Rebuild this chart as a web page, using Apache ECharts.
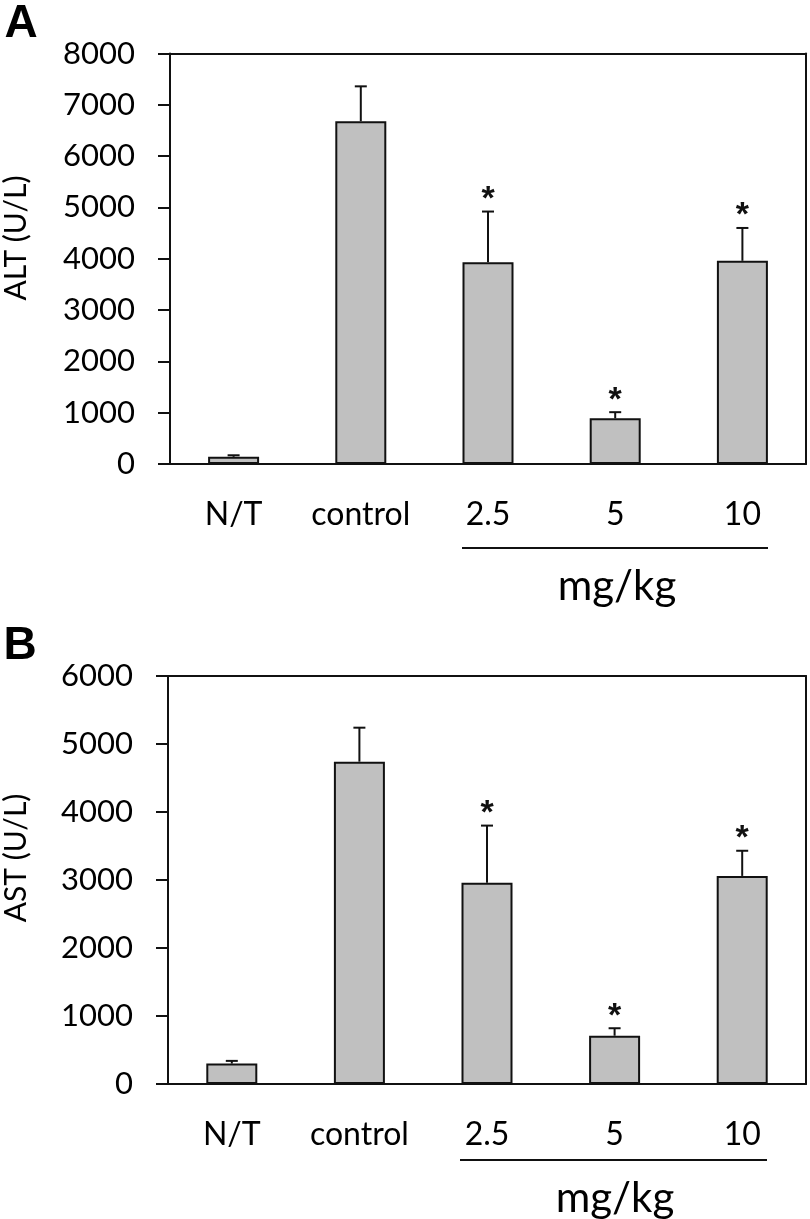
<!DOCTYPE html>
<html>
<head>
<meta charset="utf-8">
<script src="https://cdn.jsdelivr.net/npm/echarts@6/dist/echarts.min.js"></script>
<style>
html,body{margin:0;padding:0;background:#fff;}
#chart{width:810px;height:1219px;}
</style>
</head>
<body>
<div id="chart"></div>
<script>
// ---- data ----
const categories = ['N/T', 'control', '2.5', '5', '10'];
const altMean = [140, 6680, 3930, 890, 3960];
const altErr  = [30, 680, 990, 120, 640];
const altSig  = [0, 0, 1, 1, 1];
const astMean = [300, 4740, 2960, 710, 3060];
const astErr  = [40, 500, 840, 110, 370];
const astSig  = [0, 0, 1, 1, 1];
const altTicks = { min: 0, max: 8000, interval: 1000 };
const astTicks = { min: 0, max: 6000, interval: 1000 };

const FONT = 'Lato';
const black = '#111';

function errData(mean, err, sig) {
  return mean.map((m, i) => [i, m, err[i], sig[i]]);
}

function renderErr(params, api) {
  const x = api.value(0), v = api.value(1), e = api.value(2), s = api.value(3);
  const p0 = api.coord([x, v]);
  const p1 = api.coord([x, v + e]);
  const children = [
    { type: 'line', shape: { x1: p0[0], y1: p0[1], x2: p1[0], y2: p1[1] },
      style: { stroke: black, lineWidth: 2 } },
    { type: 'line', shape: { x1: p1[0] - 6, y1: p1[1], x2: p1[0] + 6, y2: p1[1] },
      style: { stroke: black, lineWidth: 2 } }
  ];
  if (s) {
    children.push({ type: 'text', x: p1[0], y: p1[1] - 12,
      style: { text: '*', font: 'bold 34px "Liberation Sans"', fill: black,
               align: 'center', verticalAlign: 'middle' } });
  }
  return { type: 'group', children };
}

const grids = [
  { left: 170, width: 636, top: 53.5, height: 410.5 },
  { left: 168, width: 638, top: 676, height: 408 }
];

function xAxes(gi) {
  return [
    { gridIndex: gi, type: 'category', data: categories, position: 'bottom',
      axisLine: { onZero: false, lineStyle: { color: black, width: 2 } },
      axisTick: { show: false },
      axisLabel: { color: '#000', fontFamily: FONT, fontSize: 32, margin: 35, interval: 0 } },
    { gridIndex: gi, type: 'category', data: categories, position: 'top',
      axisLine: { show: true, onZero: false, lineStyle: { color: black, width: 2 } },
      axisTick: { show: false }, axisLabel: { show: false } }
  ];
}
function yAxes(gi, t) {
  return [
    { gridIndex: gi, type: 'value', min: t.min, max: t.max, interval: t.interval, position: 'left',
      axisLine: { show: true, onZero: false, lineStyle: { color: black, width: 2 } },
      axisTick: { show: true, inside: false, length: 12, lineStyle: { color: black, width: 2 } },
      splitLine: { show: false },
      axisLabel: { color: '#000', fontFamily: FONT, fontSize: 31, margin: 35,
                   formatter: v => String(v) } },
    { gridIndex: gi, type: 'value', min: t.min, max: t.max, interval: t.interval, position: 'right',
      axisLine: { show: true, onZero: false, lineStyle: { color: black, width: 2 } },
      axisTick: { show: false }, axisLabel: { show: false }, splitLine: { show: false } }
  ];
}

function barSeries(xi, yi, mean) {
  return { type: 'bar', xAxisIndex: xi, yAxisIndex: yi, data: mean, barWidth: 51,
    itemStyle: { color: '#c0c0c0', borderColor: black, borderWidth: 2 }, silent: true, animation: false };
}
function errSeries(xi, yi, mean, err, sig) {
  return { type: 'custom', xAxisIndex: xi, yAxisIndex: yi, data: errData(mean, err, sig),
    renderItem: renderErr, silent: true, animation: false, z: 5 };
}

function txt(x, y, text, font, rot) {
  return { type: 'text', x, y, rotation: rot || 0,
    style: { text, font, fill: '#000', align: 'center', verticalAlign: 'middle' } };
}
function hline(x1, x2, y) {
  return { type: 'line', shape: { x1, y1: y, x2, y2: y }, style: { stroke: black, lineWidth: 2 } };
}

const chart = echarts.init(document.getElementById('chart'), null, { renderer: 'canvas' });
chart.setOption({
  animation: false,
  grid: grids,
  xAxis: [...xAxes(0), ...xAxes(1)],
  yAxis: [...yAxes(0, altTicks), ...yAxes(1, astTicks)],
  series: [
    barSeries(0, 0, altMean), errSeries(0, 0, altMean, altErr, altSig),
    barSeries(2, 2, astMean), errSeries(2, 2, astMean, astErr, astSig)
  ],
  graphic: [
    txt(21, 24, 'A', 'bold 46px "Liberation Sans"'),
    txt(20, 646, 'B', 'bold 46px "Liberation Sans"'),
    txt(16, 238, 'ALT (U/L)', '30px ' + FONT, Math.PI / 2),
    txt(16, 858, 'AST (U/L)', '30px ' + FONT, Math.PI / 2),
    hline(462, 768, 548),
    hline(460, 767, 1160),
    txt(617, 586, 'mg/kg', '42px ' + FONT),
    txt(615, 1198, 'mg/kg', '42px ' + FONT)
  ]
});
</script>
</body>
</html>
